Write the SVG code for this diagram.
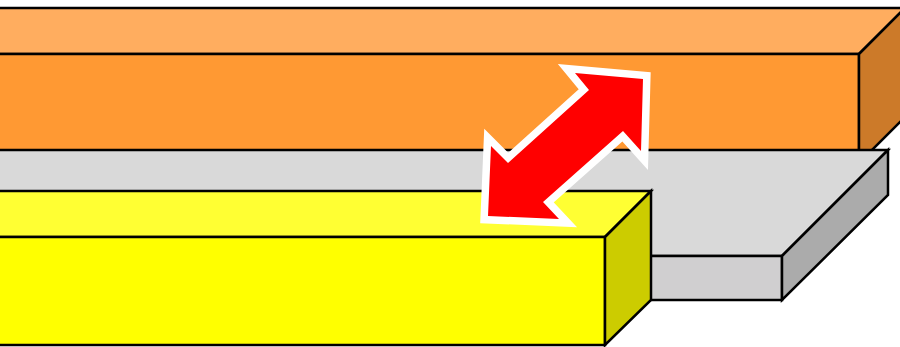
<svg xmlns="http://www.w3.org/2000/svg" width="900" height="347" viewBox="0 0 900 347">
<style>
.e{stroke:#000;stroke-width:2.5;stroke-linejoin:miter}
</style>
<rect width="900" height="347" fill="#fff"/>
<g id="orange-bar">
<polygon class="e" fill="#ffad5f" points="-10,8 905,8 859,54 -10,54"/>
<rect class="e" fill="#ff9933" x="-10" y="54" width="869" height="109"/>
<polygon class="e" fill="#cc7a29" points="859,54 905,8 905,117 859,163"/>
</g>
<g id="gray-slab">
<polygon class="e" fill="#d9d9d9" points="-10,150 888,150 782,256 -10,256"/>
<rect class="e" fill="#d0cfd0" x="-10" y="256" width="792" height="44"/>
<polygon class="e" fill="#ababab" points="782,256 888,150 888,195 782,300"/>
</g>
<g id="yellow-bar">
<polygon class="e" fill="#ffff33" points="-10,191 651,191 605,237 -10,237"/>
<rect class="e" fill="#ffff00" x="-10" y="237" width="615" height="108"/>
<polygon class="e" fill="#cccc00" points="605,237 651,191 651,300 605,345"/>
</g>
<g id="connectors">
<polygon fill="#ff0000" stroke="#fff" stroke-width="15" stroke-linejoin="miter" stroke-miterlimit="4" paint-order="stroke" points="643,79 641,151 623,131 543,202 559,219 488,216 491,146 508,163 589,90 575,73"/>
</g>
</svg>
